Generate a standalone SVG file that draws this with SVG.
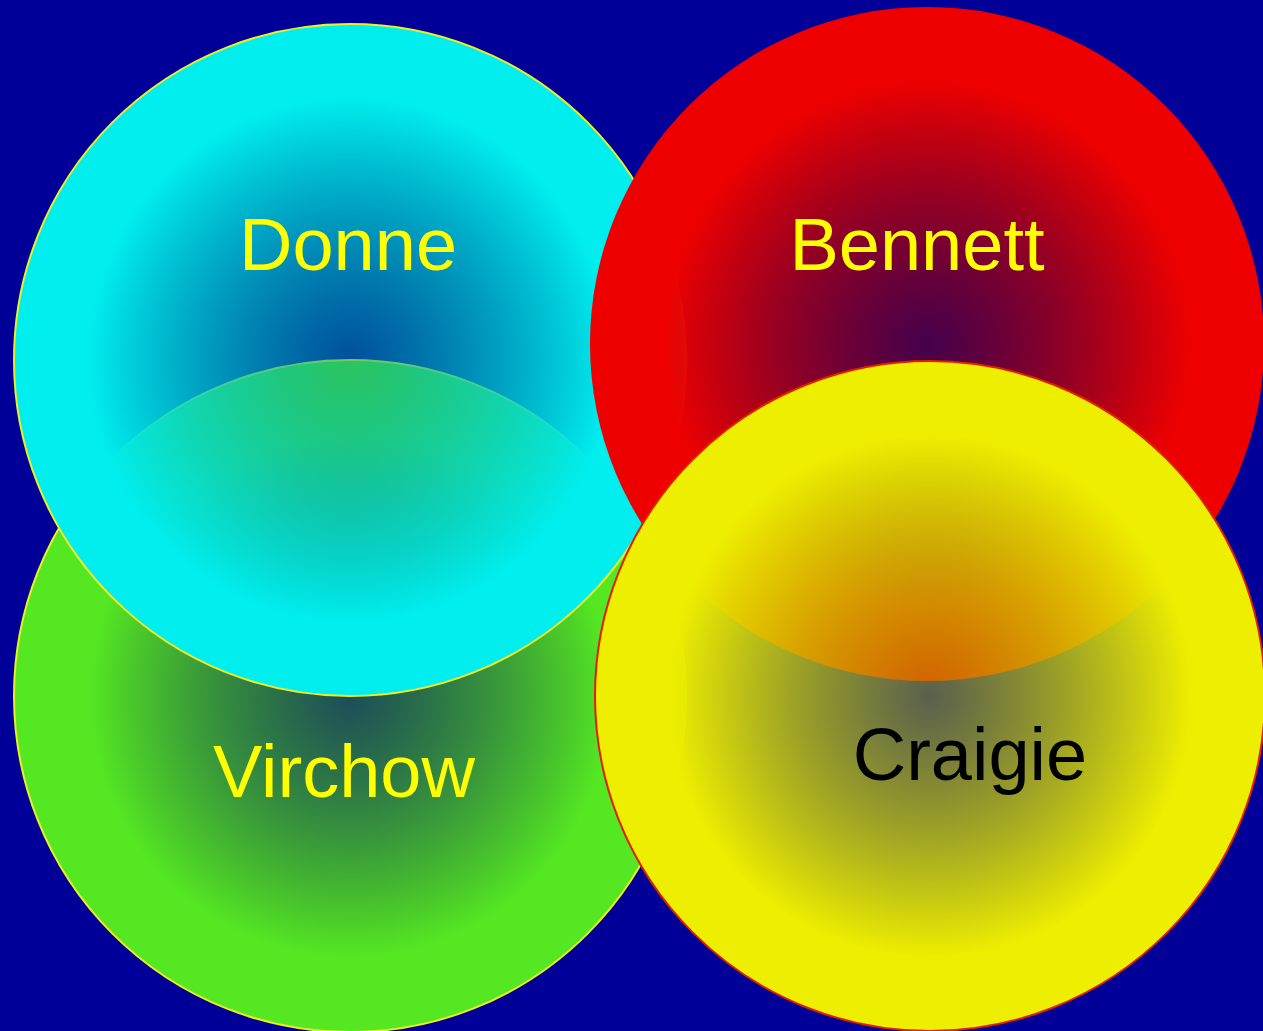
<svg xmlns="http://www.w3.org/2000/svg" width="1263" height="1031" viewBox="0 0 1263 1031">
  <style>
    .lbl { font-family: "Liberation Sans", Arial, sans-serif; font-size: 74px; text-anchor: middle; }
  </style>
  <defs>
    <radialGradient id="gCyan" cx="50%" cy="50%" r="50%">
      <stop offset="0" stop-color="#00a0a0" stop-opacity="0.5"/>
      <stop offset="0.4" stop-color="#00c8c8" stop-opacity="0.75"/>
      <stop offset="0.78" stop-color="#00eeee" stop-opacity="1"/>
      <stop offset="1" stop-color="#00eeee" stop-opacity="1"/>
    </radialGradient>
    <radialGradient id="gRed" cx="50%" cy="50%" r="50%">
      <stop offset="0" stop-color="#8c0000" stop-opacity="0.5"/>
      <stop offset="0.4" stop-color="#bc0000" stop-opacity="0.75"/>
      <stop offset="0.78" stop-color="#ee0000" stop-opacity="1"/>
      <stop offset="1" stop-color="#ee0000" stop-opacity="1"/>
    </radialGradient>
    <radialGradient id="gGreen" cx="50%" cy="50%" r="50%">
      <stop offset="0" stop-color="#3a9a1a" stop-opacity="0.5"/>
      <stop offset="0.4" stop-color="#48c01e" stop-opacity="0.75"/>
      <stop offset="0.78" stop-color="#55e822" stop-opacity="1"/>
      <stop offset="1" stop-color="#55e822" stop-opacity="1"/>
    </radialGradient>
    <radialGradient id="gYellow" cx="50%" cy="50%" r="50%">
      <stop offset="0" stop-color="#b4c000" stop-opacity="0.5"/>
      <stop offset="0.4" stop-color="#d0d600" stop-opacity="0.75"/>
      <stop offset="0.78" stop-color="#eeee00" stop-opacity="1"/>
      <stop offset="1" stop-color="#eeee00" stop-opacity="1"/>
    </radialGradient>
  </defs>
  <rect x="0" y="0" width="1263" height="1031" fill="#000099"/>
  <g id="connectors"/>
  <g id="virchow">
    <circle cx="350" cy="696" r="336" fill="url(#gGreen)" stroke="#eeee22" stroke-width="2"/>
    <text class="lbl" x="344" y="797" fill="#ffff00">Virchow</text>
  </g>
  <g id="donne">
    <circle cx="350" cy="360" r="336" fill="url(#gCyan)" stroke="#eeee22" stroke-width="2"/>
    <text class="lbl" x="348" y="270" fill="#ffff00">Donne</text>
  </g>
  <g id="bennett">
    <circle cx="927" cy="344" r="337" fill="url(#gRed)"/>
    <text class="lbl" x="917" y="270" fill="#ffff00">Bennett</text>
  </g>
  <g id="craigie">
    <circle cx="930" cy="696" r="335" fill="url(#gYellow)" stroke="#e02000" stroke-width="2"/>
    <text class="lbl" x="970" y="780" fill="#000000">Craigie</text>
  </g>
</svg>
